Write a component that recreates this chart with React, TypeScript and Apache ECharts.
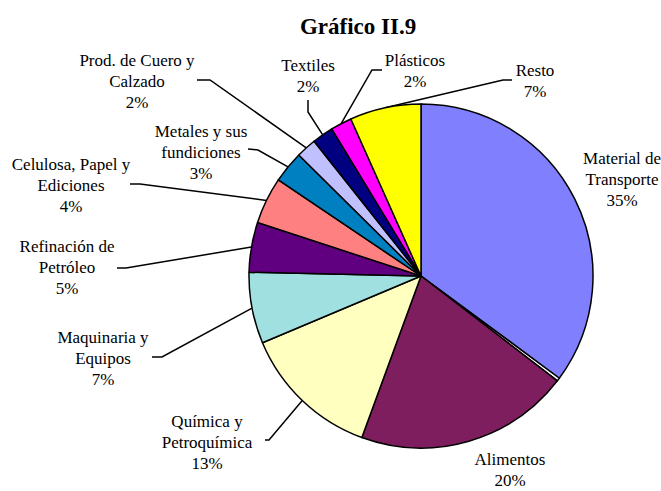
import React, { useEffect, useRef } from "react";
import * as echarts from "echarts";

const TITLE = "Gráfico II.9";
const CATEGORIES = [
  "Material de\nTransporte",
  "",
  "Alimentos",
  "Química y\nPetroquímica",
  "Maquinaria y\nEquipos",
  "Refinación de\nPetróleo",
  "Celulosa, Papel y\nEdiciones",
  "Metales y sus\nfundiciones",
  "Prod. de Cuero y\nCalzado",
  "Textiles",
  "Plásticos",
  "Resto",
];
const VALUES = [35.2, 0.3, 20.2, 13.1, 6.7, 4.7, 4.4, 3.0, 1.9, 2.0, 2.0, 6.7];
const COLORS = [
  "#8080FF", "#FFFFFF", "#7E1E5E", "#FFFFC0", "#A0E0E0", "#600080",
  "#FF8080", "#0080C0", "#C0C0FF", "#000080", "#FF00FF", "#FFFF00",
];

// label layout: [labelX, labelY, anchorX, anchorY, elbowX, elbowY]
const LABEL_POS: (number[] | null)[] = [
  [622, 179, -1, -1, -1, -1],
  null,
  [510, 470, -1, -1, -1, -1],
  [207, 442, 265, 440, 269, 440],
  [103, 358, 152, 357, 162, 357],
  [67, 267, 117, 268, 126, 268],
  [71, 185, 130, 184, 140, 184],
  [201, 152, 248, 149, 258, 150],
  [137, 81, 197, 80, 210, 80],
  [308, 76, 308, 100, 308, 112],
  [415, 71, 382, 70, 372, 70],
  [535, 81, 512, 80, 503, 80],
];

export default function App() {
  const ref = useRef<HTMLDivElement>(null);
  useEffect(() => {
    document.body.style.margin = "0";
    if (!ref.current) return;
    const chart = echarts.init(ref.current, undefined, { renderer: "svg" });
    const data = CATEGORIES.map((name, i) => {
      const noLine = LABEL_POS[i] === null || LABEL_POS[i]![2] < 0;
      return {
        name,
        value: VALUES[i],
        itemStyle: { color: COLORS[i] },
        label: { show: LABEL_POS[i] !== null },
        labelLine: { show: !noLine },
      };
    });
    chart.setOption({
      animation: false,
      backgroundColor: "#ffffff",
      graphic: [
        {
          type: "text",
          x: 358,
          y: 26,
          style: {
            text: TITLE,
            fontFamily: "Liberation Serif",
            fontWeight: "bold",
            fontSize: 23,
            fill: "#000",
            textAlign: "center",
            textVerticalAlign: "middle",
          },
        },
      ],
      series: [
        {
          type: "pie",
          center: [421, 276],
          radius: 172,
          startAngle: 90,
          clockwise: true,
          avoidLabelOverlap: false,
          data,
          itemStyle: { borderColor: "#000", borderWidth: 1.5 },
          label: {
            show: true,
            position: "outside",
            fontFamily: "Liberation Serif",
            fontSize: 17,
            lineHeight: 21,
            color: "#000",
            align: "center",
            formatter: (p: any) => `${p.name}\n${Math.round(p.percent)}%`,
          },
          labelLine: {
            show: true,
            length: 10,
            length2: 10,
            lineStyle: { color: "#000", width: 1.5 },
          },
          labelLayout: (params: any) => {
            const pos = LABEL_POS[params.dataIndex];
            if (!pos) return {};
            const res: any = {
              x: pos[0],
              y: pos[1],
              align: "center",
              verticalAlign: "middle",
            };
            if (pos[2] >= 0 && params.labelLinePoints) {
              const p0 = params.labelLinePoints[0];
              res.labelLinePoints = [
                [p0[0], p0[1]],
                [pos[4], pos[5]],
                [pos[2], pos[3]],
              ];
            }
            return res;
          },
          emphasis: { disabled: true },
        },
      ],
    });
    return () => chart.dispose();
  }, []);
  return <div ref={ref} style={{ width: 661, height: 491 }} />;
}
